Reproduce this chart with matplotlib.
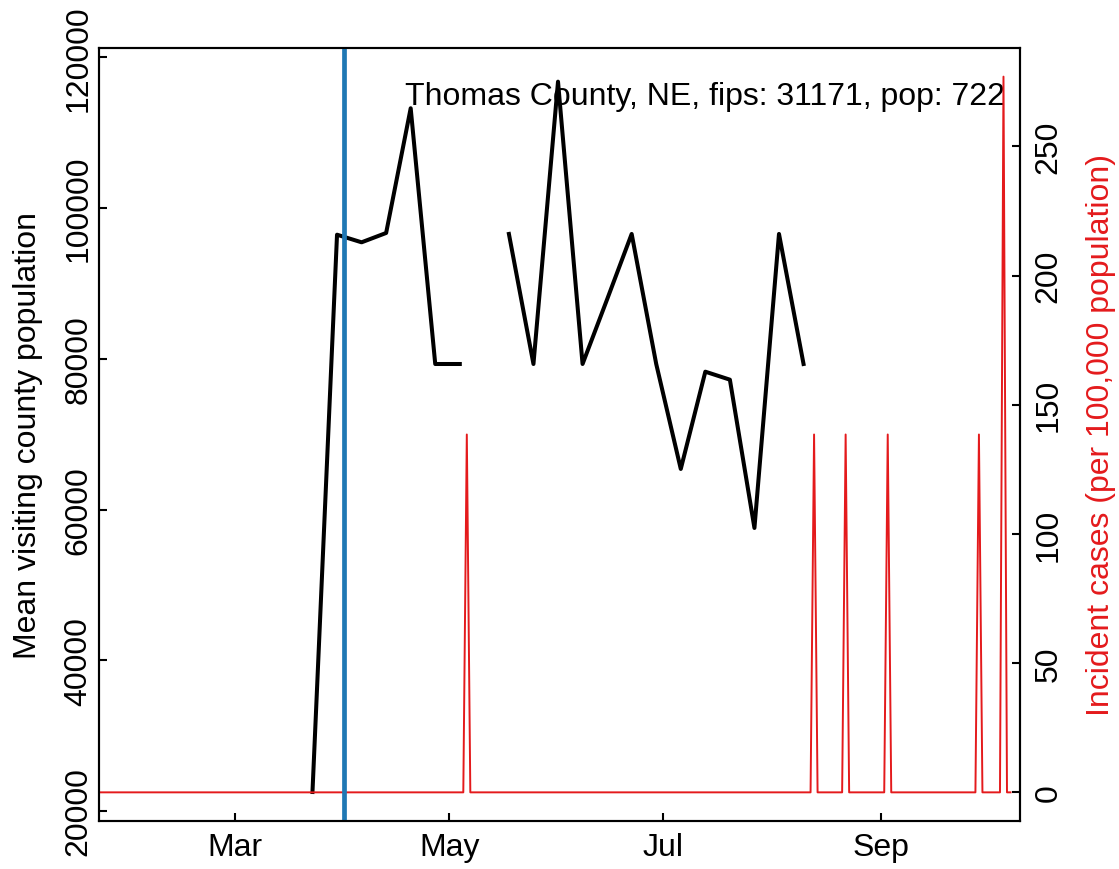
import matplotlib
matplotlib.use("Agg")
import matplotlib.pyplot as plt
import matplotlib.dates as mdates
import numpy as np
import pandas as pd

plt.rcParams["font.family"] = ["Liberation Sans", "DejaVu Sans"]
plt.rcParams["font.size"] = 23

# weekly mean population of visiting counties
semanas = pd.date_range("2020-03-23", "2020-08-10", freq="7D")
pop_visitante = [22520, 96480, 95470, 96710, 113260, 79320, 79320, np.nan,
                 96580, 79320, 116790, 79320, 87900, 96580, 79320, 65390,
                 78300, 77240, 57560, 96580, 79320]

# daily incident cases (only days with cases listed)
inicio_casos, fim_casos = "2020-01-22", "2020-10-08"
datas_casos = ["2020-05-06", "2020-08-13", "2020-08-22", "2020-09-03",
               "2020-09-29", "2020-10-06"]
n_casos = [1, 1, 1, 1, 1, 2]
populacao = 722

data_intervencao = "2020-04-01"
titulo = "Thomas County, NE, fips: 31171, pop: 722"

dias = pd.date_range(inicio_casos, fim_casos, freq="D")
casos = pd.Series(0.0, index=dias)
casos[pd.to_datetime(datas_casos)] = n_casos
incidencia = casos / populacao * 100000

fig = plt.figure(figsize=(11.19, 8.70), dpi=100)
ax = fig.add_axes([0.0885, 0.0552, 0.8230, 0.8885])
ax.plot(semanas, pop_visitante, color="black", lw=2.9)
ax.set_ylim(18673, 121260)
ax.set_yticks([20000, 40000, 60000, 80000, 100000, 120000])
ax.set_ylabel("Mean visiting county population", labelpad=15)

ax2 = ax.twinx()
ax2.plot(incidencia.index, incidencia.values, color="#E41A1C", lw=1.4)
ax2.axvline(pd.Timestamp(data_intervencao), color="#1F78B4", lw=3.4)
ax2.set_ylim(-11.08, 288.1)
ax2.set_yticks([0, 50, 100, 150, 200, 250])
ax2.set_ylabel("Incident cases (per 100,000 population)", color="#E41A1C", labelpad=16)

ref = pd.Timestamp("2020-03-01")
ax.set_xlim(ref + pd.Timedelta(days=-38.85), ref + pd.Timedelta(days=223.7))
ax.set_xticks(pd.to_datetime(["2020-03-01", "2020-05-01", "2020-07-01", "2020-09-01"]))
ax.xaxis.set_major_formatter(mdates.DateFormatter("%b"))

for a in (ax, ax2):
    for s in a.spines.values():
        s.set_linewidth(1.5)
ax.tick_params(axis="both", direction="in", length=6, width=1.5)
ax.tick_params(axis="x", pad=8)
ax.tick_params(axis="y", pad=4)
ax2.tick_params(axis="y", direction="in", length=6, width=1.5, pad=10)
for lab in ax.get_yticklabels():
    lab.set_rotation(90)
    lab.set_va("center")
for lab in ax2.get_yticklabels():
    lab.set_rotation(90)
    lab.set_va("center")

ax.text(0.984, 0.9276, titulo, transform=ax.transAxes, ha="right", va="baseline")

fig.savefig("out.png", dpi=100)
